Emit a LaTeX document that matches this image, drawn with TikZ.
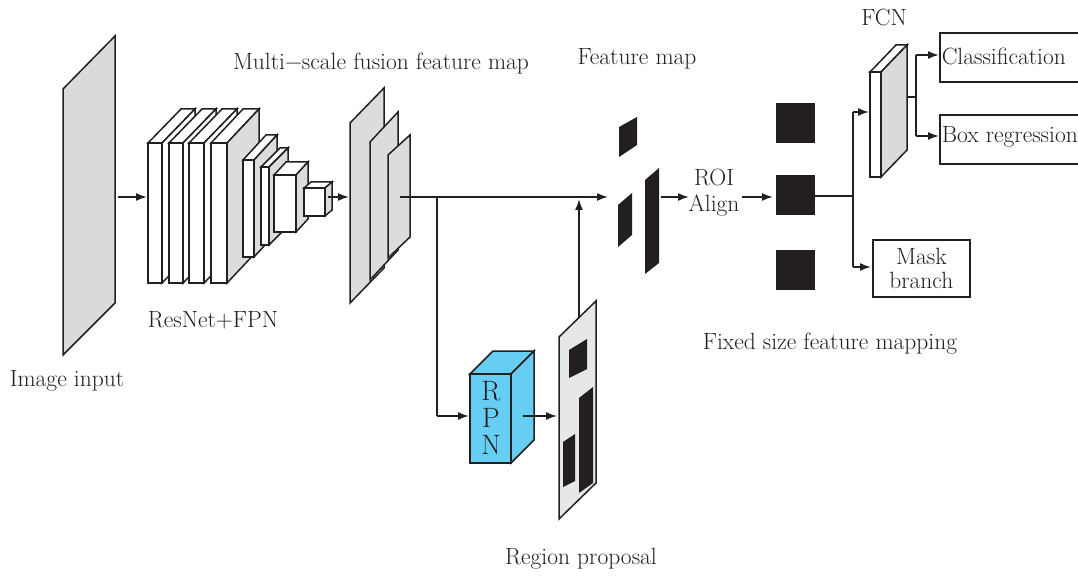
\documentclass[tikz,border=0pt]{standalone}
\usetikzlibrary{arrows.meta}
\definecolor{pgray}{HTML}{D9DADB}
\definecolor{lgray}{HTML}{E6E7E8}
\definecolor{sgray}{HTML}{DCDCDC}
\definecolor{rpnblue}{HTML}{66CDF3}
\definecolor{ink}{HTML}{231F20}
\newcommand\mycuboid[7]{%
  \filldraw[fill=white] (#1,#2) -- ++(#5,#6) -- ++({#3-#1},0) -- (#3,#2) -- cycle;
  \filldraw[fill=#7] (#3,#2) -- ++(#5,#6) -- ++(0,{#4-#2}) -- (#3,#4) -- cycle;
  \filldraw[fill=white] (#1,#2) rectangle (#3,#4);}
\begin{document}
\begin{tikzpicture}[x=1pt,y=-1pt,line width=1.5pt,draw=ink,
  arr/.style={-{Latex[length=11pt,width=8pt]},line width=1.7pt},
  wire/.style={line width=1.7pt},
  lbl/.style={font=\fontsize{23.5}{26}\selectfont,inner sep=0pt,text=ink},
  outbox/.style={draw=ink,line width=1.7pt,inner sep=0pt,anchor=north west}]
\useasboundingbox (0,0) rectangle (1078,577);
\clip (0,0) rectangle (1078,577);
\fill[white] (0,0) rectangle (1078,577);
% image input plane
\filldraw[fill=pgray] (63,89) -- (115,36) -- (115,303) -- (63,355) -- cycle;
\coordinate (imgOut) at (118,197);
\coordinate (resIn) at (147,197);
\node[lbl] (imgT) at (67,381) {Image input};
% ResNet+FPN blocks
\mycuboid{148}{143}{162}{283}{33}{-34}{white}
\mycuboid{169}{143}{183}{283}{33}{-34}{white}
\mycuboid{189}{143}{204}{283}{33}{-34}{white}
\mycuboid{211}{143}{227}{283}{32}{-34}{sgray}
\mycuboid{243}{160}{254}{257}{23}{-25}{sgray}
\mycuboid{261}{167}{269}{245}{19}{-19}{sgray}
\mycuboid{274}{175}{296}{232}{12}{-13}{sgray}
\mycuboid{304}{188}{325}{216}{7}{-6}{sgray}
\coordinate (resOut) at (328,197);
\coordinate (fmIn) at (349,197);
\node[lbl] (resT) at (213,320) {ResNet+FPN};
% multi-scale fusion feature maps
\filldraw[fill=sgray] (350,123) -- (384,88) -- (384,268) -- (350,303) -- cycle;
\filldraw[fill=sgray] (370,142) -- (398,112) -- (398,250) -- (370,280) -- cycle;
\filldraw[fill=sgray] (388,155) -- (410,135) -- (410,237) -- (388,258) -- cycle;
\node[lbl] (msT) at (381,64) {Multi{\char"2212}scale fusion feature map};
\coordinate (fmOut) at (400,197);
\coordinate (jn1) at (437,197);
\coordinate (jn1b) at (437,416);
% feature map
\fill[ink] (619,127) -- (637,117) -- (637,145) -- (619,157) -- cycle;
\fill[ink] (618,205) -- (632,193) -- (632,235) -- (618,247) -- cycle;
\fill[ink] (645,180) -- (659,168) -- (659,263) -- (645,274) -- cycle;
\coordinate (featIn) at (608,197);
\coordinate (featOut) at (661,197);
\coordinate (mergeUp) at (579,199);
\node[lbl] (featT) at (637,59) {Feature map};
% RPN
\begin{scope}[fill=rpnblue]
\filldraw (470,374) -- ++(23,-23) -- ++(41,0) -- (511,374) -- cycle;
\filldraw (511,374) -- ++(23,-23) -- ++(0,89) -- (511,463) -- cycle;
\filldraw (470,374) rectangle (511,463);
\end{scope}
\node[lbl,align=center,font=\fontsize{28}{27}\selectfont] (rpn) at (491,418) {R\\P\\N};
\coordinate (rpnIn) at (469,416);
\coordinate (rpnOut) at (523,416);
% region proposal
\filldraw[fill=lgray] (559,337) -- (596,301) -- (596,483) -- (559,519) -- cycle;
\fill[ink] (569,350) -- (587,339) -- (587,369) -- (569,378) -- cycle;
\fill[ink] (579,398) -- (593,387) -- (593,483) -- (579,493) -- cycle;
\fill[ink] (563,442) -- (575,434) -- (575,481) -- (563,487) -- cycle;
\coordinate (rpIn) at (557,416);
\coordinate (rpTop) at (579,317);
\node[lbl] (rpT) at (581,559) {Region proposal};
% ROI Align
\node[lbl,align=center,font=\fontsize{23.5}{26}\selectfont] (roi) at (714,193) {ROI\\Align};
\coordinate (roiIn) at (689,197);
\coordinate (roiOut) at (742,197);
% fixed size features
\fill[ink] (776,103) rectangle (815,143);
\fill[ink] (776,175) rectangle (815,215);
\fill[ink] (776,250) rectangle (815,290);
\coordinate (sqIn) at (773,197);
\coordinate (sqOut) at (815,196);
\coordinate (jn2) at (853,196);
\coordinate (jn2t) at (853,112);
\coordinate (jn2b) at (853,267);
\node[lbl] (fixT) at (830,344) {Fixed size feature mapping};
% FCN
\mycuboid{870}{72}{881}{177}{26}{-27}{pgray}
\coordinate (fcnIn) at (869,112);
\coordinate (fcnOut) at (907,97);
\coordinate (jn3) at (916,97);
\coordinate (jn3t) at (916,55);
\coordinate (jn3b) at (916,136);
\node[lbl] (fcnT) at (884,17) {FCN};
% output boxes
\node[outbox,minimum width=150pt,minimum height=49pt] (cls) at (939,32) {};
\node[outbox,minimum width=150pt,minimum height=49pt] (box) at (939,114) {};
\node[outbox,minimum width=97pt,minimum height=57pt] (mask) at (872,239) {};
\node[lbl,anchor=west] (clsT) at (941,56) {Classification};
\node[lbl,anchor=west] (boxT) at (941,137) {Box regression};
\node[lbl,align=center,font=\fontsize{23.5}{24}\selectfont] (maskT) at (mask.center) {Mask\\branch};
\coordinate (clsIn) at (939,55);
\coordinate (boxIn) at (939,136);
\coordinate (maskIn) at (871,267);
% connectors
\draw[arr] (imgOut) -- (resIn);
\draw[arr] (resOut) -- (fmIn);
\draw[arr] (fmOut) -- (featIn);
\draw[wire] (jn1) -- (jn1b);
\draw[arr] (jn1b) -- (rpnIn);
\draw[arr] (rpnOut) -- (rpIn);
\draw[arr] (rpTop) -- (mergeUp);
\draw[arr] (featOut) -- (roiIn);
\draw[arr] (roiOut) -- (sqIn);
\draw[wire] (sqOut) -- (jn2);
\draw[wire] (jn2t) -- (jn2b);
\draw[arr] (jn2t) -- (fcnIn);
\draw[arr] (jn2b) -- (maskIn);
\draw[wire] (fcnOut) -- (jn3);
\draw[wire] (jn3t) -- (jn3b);
\draw[arr] (jn3t) -- (clsIn);
\draw[arr] (jn3b) -- (boxIn);
\end{tikzpicture}
\end{document}
